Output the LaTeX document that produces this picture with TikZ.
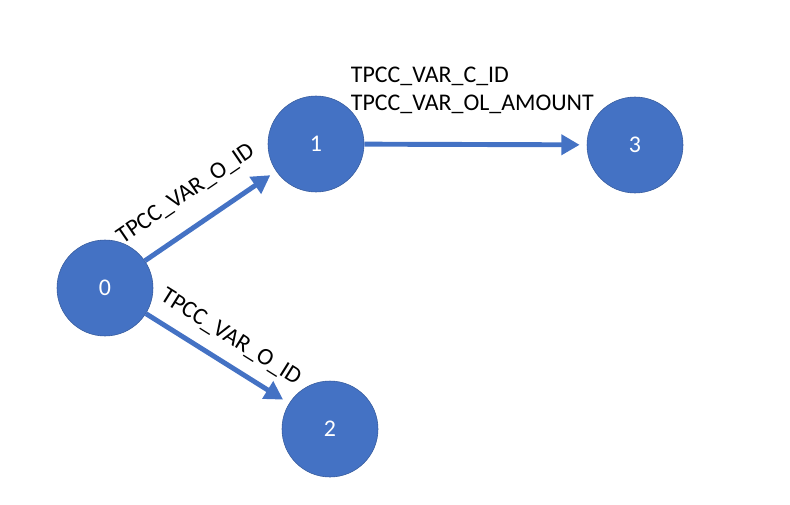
\documentclass[tikz,border=0pt]{standalone}
\usepackage{fontspec}
\setmainfont{Carlito}
\usetikzlibrary{arrows.meta}
\definecolor{nodeblue}{HTML}{4472C4}
\tikzset{
  vertex/.style={circle, fill=nodeblue, draw=nodeblue!80!black, thin, minimum size=2.4cm,
    text=white, font=\fontsize{17}{20}\selectfont},
  link/.style={color=nodeblue, line width=3.5pt, -{Triangle[length=13pt,width=14pt]},
    shorten >=5pt},
  tag/.style={font=\fontsize{17}{20}\selectfont, text=black}
}
\begin{document}
\begin{tikzpicture}
    \useasboundingbox (0, 0) rectangle (19.75, 12.6);
    % vertices
    \node [vertex] (v0) at (2.625, 5.4) {0};
    \node [vertex] (v1) at (7.9, 9.0) {1};
    \node [vertex] (v2) at (8.25, 1.875) {2};
    \node [vertex] (v3) at (15.875, 8.975) {3};
    % edges
    \draw [link] (v0) -- (v1) node [tag, pos=0.45, sloped, above=11pt] {TPCC\_VAR\_O\_ID};
    \draw [link] (v0) -- (v2) node [tag, midway, sloped, above=6pt] {TPCC\_VAR\_O\_ID};
    \draw [link] (v1) -- (v3);
    % label of 1 -> 3
    \node [tag, anchor=north west, align=left] (l13) at (8.65, 11.05)
      {TPCC\_VAR\_C\_ID\\TPCC\_VAR\_OL\_AMOUNT};
  \end{tikzpicture}
\end{document}
